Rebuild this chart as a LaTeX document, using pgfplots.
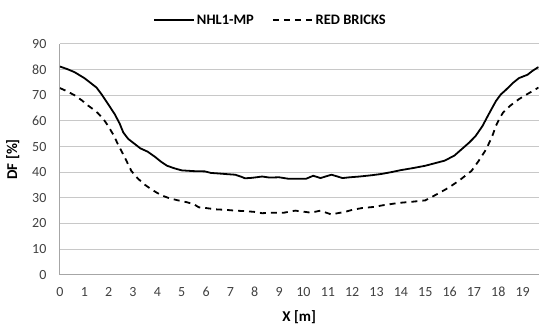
\documentclass[border=0pt]{standalone}
\usepackage{pgfplots}
\pgfplotsset{compat=1.18}
\usepackage{fontspec}
\setmainfont{Carlito}
\definecolor{tickgray}{HTML}{404040}
\definecolor{gridgray}{HTML}{C8C8C8}
\definecolor{axgray}{HTML}{A6A6A6}
\begin{document}
\begin{tikzpicture}[x=1pt,y=1pt]
\begin{axis}[
  name=ax,
  scale only axis,
  width=479pt, height=231pt,
  xmin=0, xmax=19.65,
  ymin=0, ymax=90,
  xtick={0,1,...,19},
  ytick={0,10,...,90},
  ymajorgrids,
  major grid style={gridgray, line width=1pt},
  axis x line*=bottom,
  axis y line*=left,
  axis line style={axgray, line width=1pt, -},
  major tick length=0pt,
  tick label style={font=\fontsize{14}{14}\selectfont, text=tickgray},
  /pgf/number format/assume math mode=true,
  xticklabel style={yshift=-9pt},
  yticklabel style={xshift=-10pt},
  xlabel={\textbf{X [m]}},
  ylabel={\textbf{DF [\%]}},
  label style={font=\fontsize{15}{15}\selectfont},
  xlabel style={yshift=-7pt},
  ylabel style={yshift=6pt},
  legend columns=2,
  legend style={at={(0.44,1.0)}, anchor=south, yshift=14pt, draw=none, fill=none,
    font=\fontsize{14.5}{14.5}\selectfont\bfseries, /tikz/every even column/.append style={column sep=16pt}},
  legend image code/.code={\draw[#1] (0pt,0pt) -- (40pt,0pt);},
]
\addplot[black, line width=1.8pt] coordinates {
(0,81.2) (0.3,80.2) (0.6,79) (1.0,76.7) (1.3,74.5) (1.5,73) (1.7,70.5) (1.84,68.5)
(2.05,65.5) (2.25,62.6) (2.45,59) (2.6,55.5) (2.8,53) (3.07,51) (3.3,49.3) (3.6,48)
(3.9,46) (4.16,44) (4.4,42.5) (4.7,41.5) (5.0,40.7) (5.5,40.4) (5.95,40.3) (6.2,39.7)
(6.5,39.5) (6.9,39.2) (7.2,39) (7.45,38.2) (7.6,37.6) (7.9,37.8) (8.3,38.3) (8.6,37.9)
(9.0,38) (9.4,37.4) (9.8,37.4) (10.1,37.4) (10.4,38.6) (10.7,37.7) (10.9,38.3) (11.15,39)
(11.4,38.3) (11.6,37.7) (11.9,38) (12.3,38.3) (12.8,38.8) (13.2,39.3) (13.6,40) (14.0,40.8)
(14.5,41.6) (15.0,42.5) (15.4,43.5) (15.8,44.5) (16.2,46.5) (16.5,49) (16.8,51.5) (17.06,54)
(17.35,58) (17.6,62.5) (17.9,67.7) (18.1,70.3) (18.3,72) (18.6,74.8) (18.85,76.7) (19.2,78)
(19.4,79.5) (19.65,81)
};
\addlegendentry{NHL1-MP}
\addplot[black, line width=1.8pt, dash pattern=on 6pt off 5pt] coordinates {
(0,72.8) (0.3,71.5) (0.6,70) (0.9,68) (1.15,66) (1.4,64.3) (1.56,63) (1.8,60.5) (1.98,58)
(2.2,54.5) (2.4,50.5) (2.65,46) (2.93,40.5) (3.2,37.5) (3.5,35) (3.8,33) (4.16,31) (4.5,29.8)
(4.85,29) (5.2,28.3) (5.5,27.5) (5.7,26.3) (6.0,26) (6.4,25.5) (6.8,25.3) (7.2,25) (7.6,24.8)
(8.0,24.5) (8.3,24) (8.8,24.2) (9.2,24.2) (9.66,25) (10.0,24.6) (10.3,24.2) (10.7,25)
(10.9,24.3) (11.15,23.5) (11.4,24) (11.7,24.5) (12.0,25.3) (12.4,26) (12.95,26.5) (13.2,27)
(13.9,28) (14.5,28.5) (15.0,29) (15.5,31.5) (15.97,34) (16.4,36.8) (16.9,40.5) (17.2,44.5)
(17.5,48.9) (17.75,54) (17.9,58) (18.05,61) (18.2,63.3) (18.5,66) (18.85,68.5) (19.2,70.5)
(19.65,73)
};
\addlegendentry{RED BRICKS}
\end{axis}
\path (ax.south west) ++(-60pt,-53pt);
\path (ax.north east) ++(0pt,44pt);
\end{tikzpicture}
\end{document}
